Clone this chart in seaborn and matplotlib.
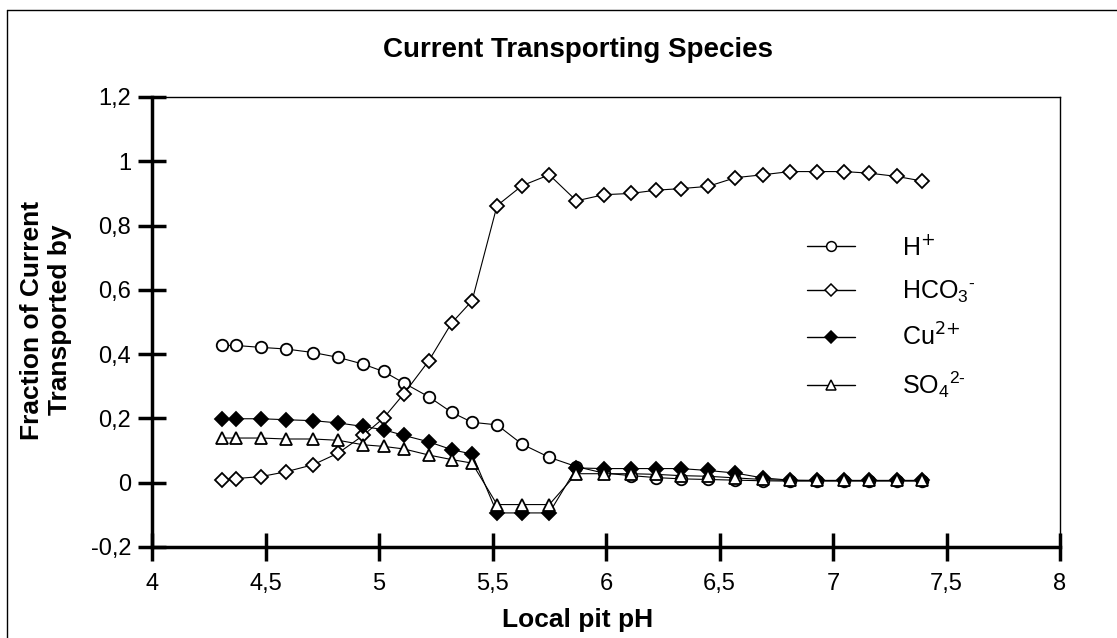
import numpy as np
import pandas as pd
import matplotlib
matplotlib.use("Agg")
import matplotlib.pyplot as plt
import seaborn as sns
from matplotlib.lines import Line2D

# ---- data ----
ph = [4.31, 4.37, 4.48, 4.59, 4.71, 4.82, 4.93, 5.02, 5.11, 5.22,
      5.32, 5.41, 5.52, 5.63, 5.75, 5.87, 5.99, 6.11, 6.22, 6.33,
      6.45, 6.57, 6.69, 6.81, 6.93, 7.05, 7.16, 7.28, 7.39]
h_plus = [0.427, 0.427, 0.421, 0.416, 0.405, 0.390, 0.369, 0.346, 0.310, 0.267,
          0.219, 0.188, 0.180, 0.120, 0.079, 0.050, 0.030, 0.022, 0.016, 0.012,
          0.010, 0.008, 0.006, 0.005, 0.005, 0.005, 0.005, 0.005, 0.005]
hco3 = [0.007, 0.013, 0.019, 0.034, 0.056, 0.092, 0.147, 0.201, 0.277, 0.380,
        0.497, 0.566, 0.862, 0.924, 0.958, 0.877, 0.896, 0.900, 0.910, 0.915,
        0.922, 0.949, 0.958, 0.968, 0.968, 0.968, 0.963, 0.953, 0.939]
cu = [0.199, 0.199, 0.199, 0.196, 0.193, 0.186, 0.175, 0.165, 0.147, 0.127,
      0.103, 0.089, -0.094, -0.094, -0.094, 0.046, 0.044, 0.044, 0.044, 0.044,
      0.038, 0.030, 0.015, 0.008, 0.007, 0.007, 0.007, 0.007, 0.007]
so4 = [0.139, 0.139, 0.139, 0.136, 0.136, 0.132, 0.118, 0.113, 0.105, 0.086,
       0.072, 0.061, -0.068, -0.068, -0.068, 0.028, 0.028, 0.028, 0.026, 0.022,
       0.020, 0.015, 0.010, 0.007, 0.007, 0.007, 0.007, 0.007, 0.007]
labels = [r"H$^{\text{+}}$", "HCO$_3$$^{\u2010}$", r"Cu$^{\text{2+}}$", "SO$_4$$^{2\u2010}$"]
x_ticks = [4, 4.5, 5, 5.5, 6, 6.5, 7, 7.5, 8]
x_tick_labels = ["4", "4,5", "5", "5,5", "6", "6,5", "7", "7,5", "8"]
y_ticks = [-0.2, 0, 0.2, 0.4, 0.6, 0.8, 1.0, 1.2]
y_tick_labels = ["-0,2", "0", "0,2", "0,4", "0,6", "0,8", "1", "1,2"]

sns.set_style("white")
plt.rcParams["font.family"] = ["Liberation Sans", "DejaVu Sans"]
plt.rcParams["mathtext.default"] = "regular"
for k in ["text.color", "axes.labelcolor", "xtick.color", "ytick.color", "axes.edgecolor"]:
    plt.rcParams[k] = "black"

fig = plt.figure(figsize=(11.17, 6.38), dpi=100)
ax = fig.add_axes([152 / 1117, 1 - 547 / 638, (1060 - 152) / 1117, (547 - 97) / 638])

styles = [
    dict(marker="o", markerfacecolor="white", markersize=8.3),
    dict(marker="D", markerfacecolor="white", markersize=6.8),
    dict(marker="D", markerfacecolor="black", markersize=6.8),
    dict(marker="^", markerfacecolor="white", markersize=8.8),
]
series = [h_plus, hco3, cu, so4]
handles = []
for vals, st, lab in zip(series, styles, labels):
    df = pd.DataFrame({"pH": ph, "frac": vals})
    sns.lineplot(data=df, x="pH", y="frac", ax=ax, color="black", linewidth=0.8,
                 markeredgecolor="black", markeredgewidth=1.3, sort=False, **st)
    handles.append(Line2D([], [], color="black", linewidth=1.0,
                          markeredgecolor="black", markeredgewidth=1.1,
                          **{k: (v * 0.85 if k == "markersize" else v) for k, v in st.items()}))

ax.set_xlim(4, 8)
ax.set_ylim(-0.2, 1.2)
ax.set_xticks(x_ticks)
ax.set_xticklabels(x_tick_labels, fontsize=17)
ax.set_yticks(y_ticks)
ax.set_yticklabels(y_tick_labels, fontsize=17)
ax.tick_params(bottom=True, left=True, direction="inout", length=20, width=2.5,
               colors="black")
ax.tick_params(axis="x", pad=9)
ax.tick_params(axis="y", pad=5)

for s in ["left", "bottom"]:
    ax.spines[s].set_linewidth(2.5)
for s in ["top", "right"]:
    ax.spines[s].set_linewidth(1.0)

ax.set_xlabel("Local pit pH", fontsize=19, fontweight="bold")
ax.xaxis.set_label_coords((578 - 152) / (1060 - 152), -(620 - 547) / (547 - 97))
ax.xaxis.label.set_va("center")
ax.set_ylabel("Fraction of Current\nTransported by", fontsize=19, fontweight="bold")
ax.yaxis.set_label_coords(-(152 - 46) / (1060 - 152), (547 - 320) / (547 - 97))
ax.yaxis.label.set_va("center")
fig.text(578 / 1117, 1 - 50 / 638, "Current Transporting Species", ha="center", va="center",
         fontsize=20, fontweight="bold")

leg = ax.legend(handles, labels, loc="center left", bbox_to_anchor=(0.697, 0.51), frameon=False,
                fontsize=18, handlelength=1.9, handletextpad=1.9, labelspacing=0.75)

# figure frame (left and top edges visible)
fig.add_artist(Line2D([7 / 1117, 7 / 1117], [0, 1 - 10 / 638], transform=fig.transFigure,
                      color="black", linewidth=1.0))
fig.add_artist(Line2D([7 / 1117, 1], [1 - 10 / 638, 1 - 10 / 638], transform=fig.transFigure,
                      color="black", linewidth=1.0))

fig.savefig("out.png", dpi=100)
